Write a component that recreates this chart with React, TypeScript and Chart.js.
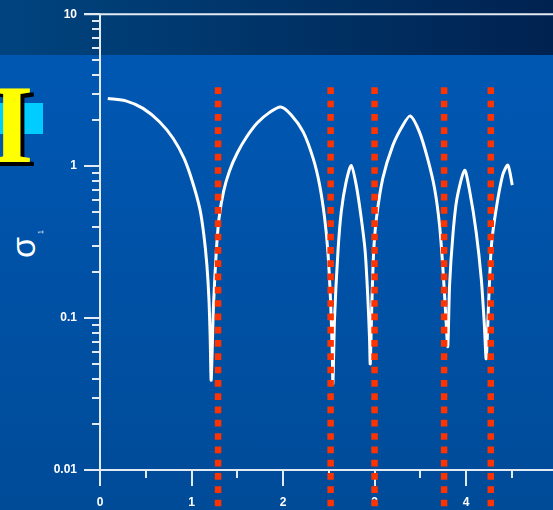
import { useEffect, useRef } from 'react';
import { Chart, registerables } from 'chart.js';

Chart.register(...registerables);

// White curve: sigma_1 versus x
const curveX = [
  0.085, 0.29, 0.47, 0.65, 0.8, 0.92, 1.01, 1.09, 1.135, 1.168, 1.19, 1.204, 1.215,
  1.24, 1.27, 1.3, 1.35, 1.415, 1.5, 1.6, 1.72, 1.85, 1.975,
  2.09, 2.22, 2.33, 2.4, 2.455, 2.49, 2.52, 2.538, 2.545,
  2.563, 2.6, 2.636, 2.69, 2.745,
  2.8, 2.855, 2.898, 2.927, 2.945, 2.953,
  2.97, 2.99, 3.02, 3.09, 3.2, 3.31, 3.39,
  3.49, 3.58, 3.656, 3.71, 3.747, 3.776, 3.8,
  3.82, 3.856, 3.9, 3.984,
  4.04, 4.11, 4.166, 4.2, 4.22,
  4.247, 4.277, 4.33, 4.4, 4.457, 4.505,
];
const curveY = [
  2.79, 2.68, 2.4, 1.96, 1.52, 1.12, 0.79, 0.527, 0.352, 0.223, 0.135, 0.074, 0.039,
  0.12, 0.27, 0.45, 0.68, 0.93, 1.22, 1.55, 1.93, 2.25, 2.45,
  2.17, 1.68, 1.12, 0.75, 0.453, 0.273, 0.128, 0.06, 0.037,
  0.1, 0.273, 0.5, 0.79, 1.01,
  0.75, 0.453, 0.273, 0.135, 0.074, 0.05,
  0.12, 0.27, 0.45, 0.83, 1.37, 1.86, 2.14,
  1.68, 1.12, 0.713, 0.41, 0.212, 0.11, 0.065,
  0.165, 0.352, 0.61, 0.94,
  0.68, 0.37, 0.182, 0.09, 0.054,
  0.128, 0.3, 0.527, 0.873, 1.015, 0.75,
];

// Red dotted vertical markers
const markerX = [1.29, 2.52, 3.0, 3.76, 4.27];
const markerTop = 3.3;
const markerBottom = 0.0054;

// Axes
const xMin = 0;
const xMax = 4.95;
const xMajorTicks = [0, 1, 2, 3, 4];
const xTickLabels = ['0', '1', '2', '3', '4'];
const xMinorTicks = [0.5, 1.5, 2.5, 3.5, 4.5];
const yMin = 0.01;
const yMax = 10;
const yMajorTicks = [0.01, 0.1, 1, 10];
const yTickLabels = ['0.01', '0.1', '1', '10'];
const yMinorMultipliers = [2, 3, 4, 5, 6, 7, 8, 9];
const yMinorDecades = [0.01, 0.1, 1];

const axisColor = '#e4eaf2';
const tickFont = { family: "'Liberation Sans', Arial, sans-serif", size: 12, weight: 'bold' as const };

const axisDecor = {
  id: 'axisDecor',
  beforeDatasetsDraw(chart: any) {
    const { ctx, chartArea: a, scales } = chart;
    const x = scales.x;
    const y = scales.y;
    ctx.save();
    ctx.strokeStyle = axisColor;
    ctx.lineWidth = 2;
    ctx.beginPath();
    ctx.moveTo(a.left, a.top);
    ctx.lineTo(a.left, a.bottom);
    ctx.moveTo(a.left - 16, a.top);
    ctx.lineTo(chart.width, a.top);
    ctx.moveTo(a.left - 16, a.bottom);
    ctx.lineTo(chart.width, a.bottom);
    for (const v of yMajorTicks) {
      const py = Math.round(y.getPixelForValue(v));
      ctx.moveTo(a.left - 16, py);
      ctx.lineTo(a.left, py);
    }
    for (const d of yMinorDecades) {
      for (const m of yMinorMultipliers) {
        const py = Math.round(y.getPixelForValue(d * m));
        ctx.moveTo(a.left - 8, py);
        ctx.lineTo(a.left, py);
      }
    }
    for (const v of xMajorTicks) {
      const px = Math.round(x.getPixelForValue(v));
      ctx.moveTo(px, a.bottom);
      ctx.lineTo(px, a.bottom + 16);
    }
    for (const v of xMinorTicks) {
      const px = Math.round(x.getPixelForValue(v));
      ctx.moveTo(px, a.bottom);
      ctx.lineTo(px, a.bottom + 8);
    }
    ctx.stroke();
    ctx.restore();
  },
};

export default function App() {
  const canvasRef = useRef<HTMLCanvasElement | null>(null);

  useEffect(() => {
    if (!canvasRef.current) return;
    const markerSets = markerX.map((mx) => ({
      data: [
        { x: mx, y: markerTop },
        { x: mx, y: markerBottom },
      ],
      borderColor: '#ff3300',
      borderWidth: 6.5,
      borderDash: [6.7, 6.6],
      borderCapStyle: 'butt' as const,
      pointRadius: 0,
      tension: 0,
      clip: false as any,
      order: 1,
    }));
    const chart = new Chart(canvasRef.current, {
      type: 'line',
      data: {
        datasets: [
          {
            data: curveX.map((cx, i) => ({ x: cx, y: curveY[i] })),
            borderColor: '#ffffff',
            borderWidth: 3,
            pointRadius: 0,
            tension: 0.25,
            order: 2,
          },
          ...markerSets,
        ],
      },
      options: {
        animation: false,
        responsive: false,
        maintainAspectRatio: false,
        layout: { padding: { top: 14, left: 0, right: 0, bottom: 0 } },
        plugins: { legend: { display: false }, tooltip: { enabled: false } },
        scales: {
          x: {
            type: 'linear',
            min: xMin,
            max: xMax,
            position: 'bottom',
            afterBuildTicks: (s: any) => {
              s.ticks = xMajorTicks.map((v) => ({ value: v }));
            },
            afterFit: (s: any) => {
              s.height = 40;
            },
            grid: { display: false, drawTicks: true, tickLength: 16 },
            border: { display: false },
            ticks: {
              color: '#ffffff',
              font: tickFont,
              padding: 9,
              maxRotation: 0,
              autoSkip: false,
              callback: (_v: any, i: number) => xTickLabels[i],
            },
          },
          y: {
            type: 'logarithmic',
            min: yMin,
            max: yMax,
            position: 'left',
            afterBuildTicks: (s: any) => {
              s.ticks = yMajorTicks.map((v) => ({ value: v }));
            },
            afterFit: (s: any) => {
              s.width = 100;
            },
            grid: { display: false, drawTicks: true, tickLength: 16 },
            border: { display: false },
            ticks: {
              color: '#ffffff',
              font: tickFont,
              padding: 7,
              autoSkip: false,
              callback: (_v: any, i: number) => yTickLabels[i],
            },
          },
        },
      },
      plugins: [axisDecor],
    });
    return () => chart.destroy();
  }, []);

  return (
    <div
      style={{
        position: 'fixed',
        left: 0,
        top: 0,
        width: 553,
        height: 510,
        overflow: 'hidden',
        background:
          'linear-gradient(to right, #00447f, #002250) top left / 100% 55px no-repeat, linear-gradient(to bottom, #0059b6, #004b98)',
      }}
    >
      <div
        style={{
          position: 'absolute',
          left: -10,
          top: 103,
          width: 53,
          height: 31,
          background: '#00ccff',
        }}
      />
      <div
        style={{
          position: 'absolute',
          left: -10,
          top: 68,
          fontFamily: "'Liberation Serif', 'Times New Roman', serif",
          fontWeight: 'bold',
          fontSize: 112,
          lineHeight: 1,
          color: '#ffff00',
          textShadow: '4px 4px 0 #000000',
          whiteSpace: 'nowrap',
        }}
      >
        I
      </div>
      <div
        style={{
          position: 'absolute',
          left: 6,
          top: 258,
          transformOrigin: 'left top',
          transform: 'rotate(-90deg)',
          fontFamily: "'Liberation Sans', Arial, sans-serif",
          fontSize: 34,
          lineHeight: 1,
          color: '#ffffff',
          whiteSpace: 'nowrap',
        }}
      >
        σ
        <span style={{ fontSize: 7, position: 'relative', top: 8, marginLeft: 3 }}>1</span>
      </div>
      <canvas
        ref={canvasRef}
        width={553}
        height={510}
        style={{ position: 'absolute', left: 0, top: 0, width: 553, height: 510 }}
      />
    </div>
  );
}
